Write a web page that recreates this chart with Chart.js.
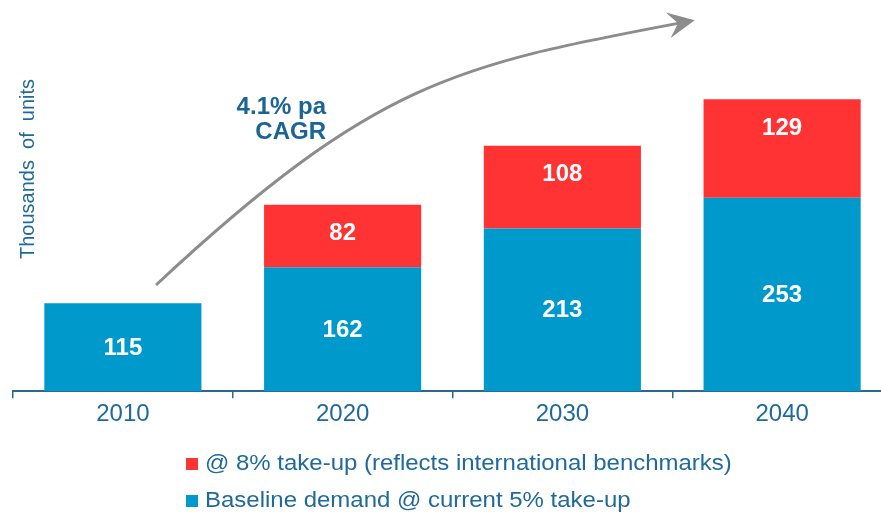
<!DOCTYPE html>
<html>
<head>
<meta charset="utf-8">
<script src="https://cdn.jsdelivr.net/npm/chart.js@4/dist/chart.umd.min.js"></script>
<style>
  html, body { margin: 0; padding: 0; background: #fff; overflow: hidden; }
  #frame { width: 881px; height: 513px; overflow: hidden; }
  #wrapper { width: 892px; height: 513px; }
</style>
</head>
<body>
<div id="frame"><div id="wrapper"><canvas id="chart"></canvas></div></div>
<script>
// demand forecast, thousands of units
const years = ['2010', '2020', '2030', '2040'];
const baseline = [115, 162, 213, 253];
const extra = [null, 82, 108, 129];
const baselineLabel = 'Baseline demand @ current 5% take-up';
const extraLabel = '@ 8% take-up (reflects international benchmarks)';
const axisTitle = 'Thousands  of  units';
const cagrLines = ['4.1% pa', 'CAGR'];

const BLUE = '#0099CC';
const RED = '#FF3333';
const TEXT = '#1F6A9A';
const AXIS = '#2C6890';
const FONT = "'Liberation Sans', Arial, sans-serif";

// white value on each segment: centred on the base, near the top on the add-on
const segmentLabels = {
  id: 'segmentLabels',
  afterDatasetsDraw(chart) {
    const ctx = chart.ctx;
    ctx.save();
    ctx.fillStyle = '#fff';
    ctx.font = 'bold 24px ' + FONT;
    ctx.textAlign = 'center';
    ctx.textBaseline = 'middle';
    chart.data.datasets.forEach(function(ds, i) {
      chart.getDatasetMeta(i).data.forEach(function(bar, j) {
        const v = ds.data[j];
        if (!v) return;
        const y = i === 0 ? (bar.y + bar.base) / 2 + 1 : bar.y + 29;
        ctx.fillText(String(v), bar.x, y);
      });
    });
    ctx.restore();
  }
};

// rotated y title, growth arrow and CAGR note, stacked legend
const extras = {
  id: 'extras',
  afterDraw(chart) {
    const ctx = chart.ctx;
    const a = chart.chartArea;
    ctx.save();

    // y axis title
    ctx.save();
    ctx.translate(a.left + 15, a.top + 160);
    ctx.rotate(-Math.PI / 2);
    ctx.fillStyle = TEXT;
    ctx.font = '20px ' + FONT;
    ctx.textAlign = 'center';
    ctx.textBaseline = 'middle';
    ctx.fillText(axisTitle, 0, 0);
    ctx.restore();

    // growth arrow
    const ox = a.left, oy = a.top;
    const p0 = [ox + 143, oy + 276];
    const p1 = [ox + 363, oy + 71];
    const p2 = [ox + 445, oy + 56];
    const p3 = [ox + 667, oy + 14];
    ctx.strokeStyle = '#8C8C8C';
    ctx.fillStyle = '#8C8C8C';
    ctx.lineWidth = 3;
    ctx.beginPath();
    ctx.moveTo(p0[0], p0[1]);
    ctx.bezierCurveTo(p1[0], p1[1], p2[0], p2[1], p3[0], p3[1]);
    ctx.stroke();
    const ang = Math.atan2(p3[1] - p2[1], p3[0] - p2[0]);
    ctx.save();
    ctx.translate(p3[0], p3[1]);
    ctx.rotate(ang);
    ctx.beginPath();
    ctx.moveTo(15, 0);
    ctx.lineTo(-12, -13);
    ctx.lineTo(-2, 0);
    ctx.lineTo(-12, 13);
    ctx.closePath();
    ctx.fill();
    ctx.restore();

    // CAGR note
    ctx.fillStyle = '#1A6496';
    ctx.font = 'bold 24px ' + FONT;
    ctx.textAlign = 'right';
    ctx.textBaseline = 'alphabetic';
    ctx.fillText(cagrLines[0], ox + 313, oy + 105);
    ctx.fillText(cagrLines[1], ox + 313, oy + 130);

    // legend, top item first
    const items = chart.data.datasets.slice().reverse();
    items.forEach(function(ds, i) {
      const cy = 464 + i * 37;
      ctx.fillStyle = ds.backgroundColor;
      ctx.fillRect(186, cy - 6, 12, 12);
      ctx.save();
      ctx.translate(205, cy);
      ctx.scale(1.09, 1);
      ctx.font = '22px ' + FONT;
      ctx.textAlign = 'left';
      ctx.textBaseline = 'middle';
      ctx.fillStyle = TEXT;
      ctx.fillText(ds.label, 0, 0);
      ctx.restore();
    });

    ctx.restore();
  }
};

new Chart('chart', {
  type: 'bar',
  data: {
    labels: years,
    datasets: [
      { label: baselineLabel, data: baseline, backgroundColor: BLUE,
        barPercentage: 0.715, categoryPercentage: 1 },
      { label: extraLabel, data: extra, backgroundColor: RED,
        barPercentage: 0.715, categoryPercentage: 1 }
    ]
  },
  options: {
    responsive: true,
    maintainAspectRatio: false,
    animation: false,
    layout: { padding: { top: 9, left: 13, right: 0, bottom: 82 } },
    plugins: {
      legend: { display: false },
      tooltip: { enabled: false }
    },
    scales: {
      x: {
        stacked: true,
        grid: { display: true, offset: true, drawOnChartArea: false,
                tickLength: 7, color: AXIS, lineWidth: 1.5 },
        border: { display: true, color: AXIS, width: 2 },
        ticks: { color: TEXT, font: { size: 24, family: FONT }, padding: 2 }
      },
      y: { stacked: true, display: false, min: 0, max: 500 }
    }
  },
  plugins: [segmentLabels, extras]
});
</script>
</body>
</html>
